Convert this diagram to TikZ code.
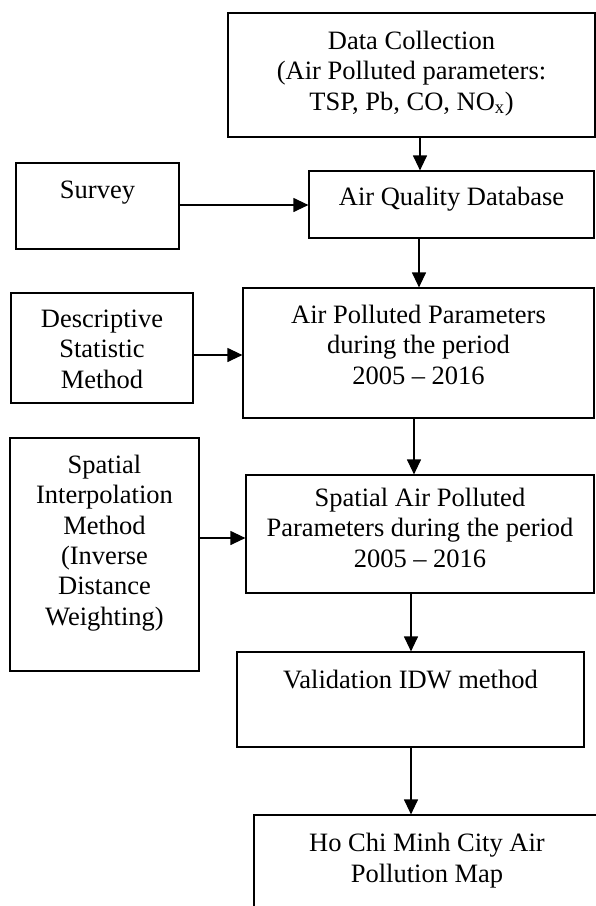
\documentclass[tikz,border=0pt]{standalone}
\usepackage{fontspec}
\setmainfont{Liberation Serif}
\usetikzlibrary{arrows.meta,calc}
\begin{document}
\begin{tikzpicture}[x=1pt,y=-1pt,
  box/.style={draw,line width=1.2pt,inner sep=0pt,rectangle},
  lbl/.style={align=center,font=\fontsize{26.5}{30.3}\selectfont,inner sep=0pt,anchor=base},
  arr/.style={line width=1.2pt,-{Triangle[length=15pt,width=14pt]}}]
\useasboundingbox (0,0) rectangle (596,906);
\clip (0,0) rectangle (596,906);
% boxes
\node[box,minimum width=367pt,minimum height=124pt] (dc) at (411.5,75) {};
\node[box,minimum width=285pt,minimum height=67pt] (aqd) at (451.5,204.5) {};
\node[box,minimum width=163pt,minimum height=86pt] (sur) at (97.5,206) {};
\node[box,minimum width=351pt,minimum height=130pt] (app) at (418.5,353) {};
\node[box,minimum width=182pt,minimum height=110pt] (des) at (102,348) {};
\node[box,minimum width=189pt,minimum height=233pt] (spl) at (104.5,554.5) {};
\node[box,minimum width=348pt,minimum height=118pt] (spa) at (420,534) {};
\node[box,minimum width=347pt,minimum height=95pt] (val) at (410.5,699.5) {};
\node[box,minimum width=346pt,minimum height=130pt] (hcm) at (427,880) {};
% labels (anchor = baseline of the last line)
\node[lbl] (dct) at (411.5,110) {Data Collection\\(Air Polluted parameters:\\TSP, Pb, CO, NO\textsubscript{x})};
\node[lbl] (aqdt) at (451.5,205) {Air Quality Database};
\node[lbl] (surt) at (97.5,198) {Survey};
\node[lbl] (appt) at (418.5,384) {Air Polluted Parameters\\during the period\\2005 – 2016};
\node[lbl] (dest) at (102,388) {Descriptive\\Statistic\\Method};
\node[lbl] (splt) at (104.5,625) {Spatial\\Interpolation\\Method\\(Inverse\\Distance\\Weighting)};
\node[lbl] (spat) at (420,567) {Spatial Air Polluted\\Parameters during the period\\2005 – 2016};
\node[lbl] (valt) at (410.5,688) {Validation IDW method};
\node[lbl] (hcmt) at (427,882) {Ho Chi Minh City Air\\Pollution Map};
% connector guides
\coordinate (c1) at (420,0);
\coordinate (c2) at (419,0);
\coordinate (c3) at (414,0);
\coordinate (c4) at (411,0);
\coordinate (c5) at (0,205);
\coordinate (c6) at (0,355);
\coordinate (c7) at (0,538);
% connectors
\draw[arr] (dc.south -| c1) -- (aqd.north -| c1);
\draw[arr] (aqd.south -| c2) -- (app.north -| c2);
\draw[arr] (app.south -| c3) -- (spa.north -| c3);
\draw[arr] (spa.south -| c4) -- (val.north -| c4);
\draw[arr] (val.south -| c4) -- (hcm.north -| c4);
\draw[arr] (sur.east |- c5) -- (aqd.west |- c5);
\draw[arr] (des.east |- c6) -- (app.west |- c6);
\draw[arr] (spl.east |- c7) -- (spa.west |- c7);
\end{tikzpicture}
\end{document}
